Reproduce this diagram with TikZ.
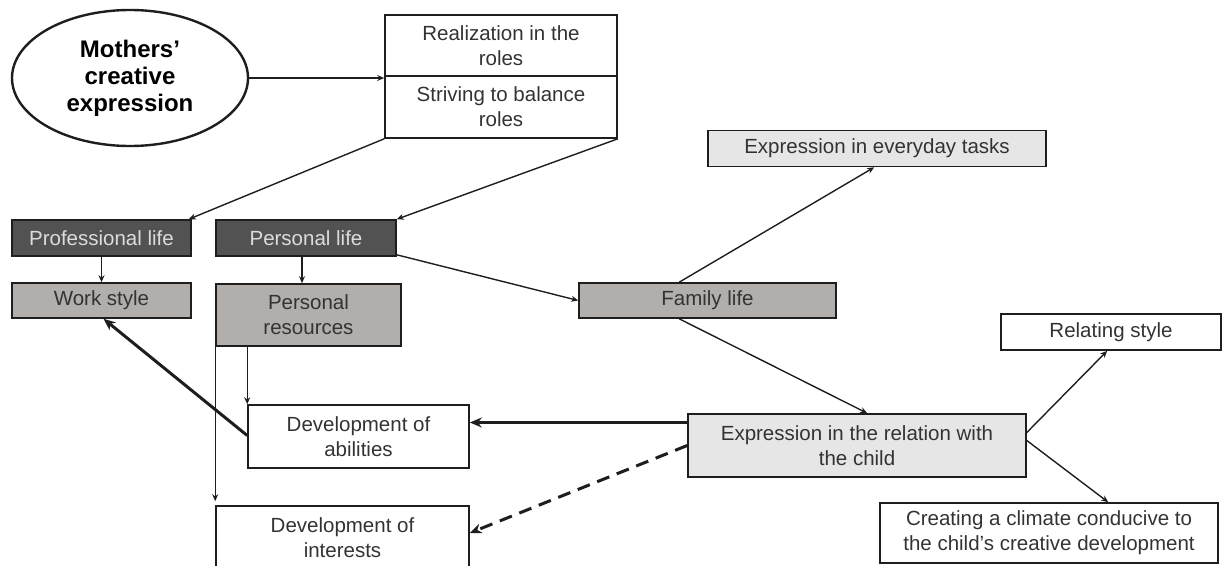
\documentclass[tikz,border=0pt]{standalone}
\usepackage{fontspec}
\setmainfont{Liberation Sans}
\usetikzlibrary{shapes.geometric,arrows.meta,calc}
\definecolor{darkfill}{HTML}{525252}
\definecolor{midfill}{HTML}{B1AEAC}
\definecolor{lightfill}{HTML}{E6E6E6}
\definecolor{txt}{HTML}{333333}
\definecolor{lighttxt}{HTML}{DCDCDC}
\definecolor{ln}{HTML}{1E1E1E}
\begin{document}
\begin{tikzpicture}[x=1pt,y=-1pt,
  box/.style={draw=ln, line width=1.6pt, align=center, inner sep=0pt, text=txt,
    font=\fontsize{20.5}{25}\selectfont},
  darkbox/.style={box, fill=darkfill, text=lighttxt},
  midbox/.style={box, fill=midfill},
  lightbox/.style={box, fill=lightfill},
  arr/.style={draw=ln, line width=1.4pt, -{Stealth[length=7pt,width=6pt]}},
  tarr/.style={draw=ln, line width=3pt, -{Stealth[length=12pt,width=10pt]}},
]
\useasboundingbox (0,0) rectangle (1223,565);
\clip (0,0) rectangle (1223,565);

\node[ellipse, draw=ln, line width=2.4pt, minimum width=236, minimum height=136, inner sep=0pt,
  align=center, font=\fontsize{24}{27}\selectfont\bfseries, text=black] (ell) at (130,78)
  {Mothers'\\creative\\expression};

\node[box, minimum width=232, minimum height=61] (real) at (501,45.5) {Realization in the\\roles};
\node[box, minimum width=232, minimum height=62] (striv) at (501,107) {Striving to balance\\roles};

\node[darkbox, minimum width=179, minimum height=36] (prof) at (101.5,238) {Professional life};
\node[darkbox, minimum width=180, minimum height=36] (pers) at (306,238) {Personal life};
\node[midbox, minimum width=179, minimum height=35] (work) at (101.5,300.5) {Work style};
\node[midbox, minimum width=185, minimum height=62] (res) at (308.5,315) {Personal\\resources};
\node[midbox, minimum width=257, minimum height=35] (fam) at (707.5,300.5) {Family life};
\node[lightbox, minimum width=338, minimum height=36] (tasks) at (877,148.5) {Expression in everyday tasks};
\node[box, minimum width=220, minimum height=36] (relst) at (1111,332) {Relating style};
\node[lightbox, minimum width=338, minimum height=63] (rel) at (857,445.5) {Expression in the relation with\\the child};
\node[box, minimum width=221, minimum height=63] (abil) at (358.5,436.5) {Development of\\abilities};
\node[box, minimum width=253, minimum height=64] (inter) at (342.5,538) {Development of\\interests};
\node[box, minimum width=338, minimum height=60] (clim) at (1049,533) {Creating a climate conducive to\\the child's creative development};

% connectors
\draw[arr] (ell.east) -- (ell.east -| real.west);
\draw[arr] (striv.south west) -- ($(prof.north east)+(-3,0)$);
\draw[arr] (striv.south east) -- (pers.north east);
\draw[arr] (prof.south) -- (work.north);
\draw[arr] ($(pers.south)+(-4,0)$) -- ($(res.north)+(-6.5,0)$);
\draw[arr] ($(pers.south east)+(0,-2)$) -- (fam.west);
\draw[arr] ($(fam.north west)+(101,0)$) -- ($(tasks.south west)+(167,0)$);
\draw[arr] ($(fam.south west)+(101,0)$) -- ($(rel.north west)+(180,0)$);
\draw[arr] ($(rel.east)+(0,-13)$) -- ($(relst.south west)+(107,0)$);
\draw[arr] ($(rel.east)+(0,-5)$) -- ($(clim.north west)+(229,0)$);
\coordinate (r1) at ($(rel.west)+(0,-23)$);
\draw[tarr] (r1) -- (r1 -| abil.east);
\draw[tarr, dash pattern=on 13pt off 8pt] (rel.west) -- ($(inter.east)+(0,-5)$);
\draw[tarr] ($(abil.west)+(0,-1)$) -- ($(work.south)+(2,0)$);
\draw[arr] ($(res.south west)+(32,0)$) -- (abil.north west);
\draw[arr] (res.south west) -- ($(inter.north west)+(0,-4)$);
\end{tikzpicture}
\end{document}
